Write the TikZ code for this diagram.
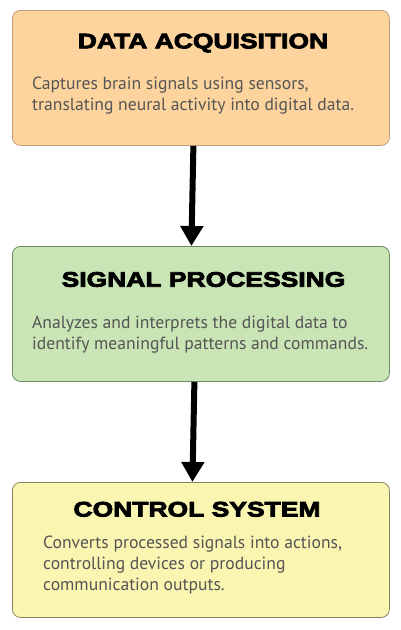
\documentclass[tikz,border=0pt]{standalone}
\usepackage{fontspec}
\setmainfont{PT Sans}
\newfontfamily\titlefont{Liberation Sans Bold}[FakeBold=4,FakeStretch=1.26]
\newfontfamily\bodyfont{PT Sans}
\usetikzlibrary{arrows.meta}
\definecolor{fillA}{HTML}{FDD49E}
\definecolor{drawA}{HTML}{C49A7A}
\definecolor{fillB}{HTML}{C9E5B5}
\definecolor{drawB}{HTML}{6F8A62}
\definecolor{fillC}{HTML}{FBF5B2}
\definecolor{drawC}{HTML}{8A8262}
\definecolor{bodygray}{HTML}{555555}
\newcommand{\bodylines}[1]{\begin{tabular}[t]{@{}l@{}}#1\end{tabular}}
\tikzset{
  boxstyle/.style={rounded corners=8pt, line width=0.8pt, minimum width=377pt, minimum height=135pt, inner sep=0pt, anchor=north west},
  titlestyle/.style={font=\titlefont\fontsize{21}{24}\selectfont, text=black, inner sep=0pt, anchor=base},
  bodystyle/.style={font=\bodyfont\fontsize{17.6}{21}\selectfont, text=bodygray, inner sep=0pt, anchor=base west},
  flowarrow/.style={line width=6pt, -{Triangle[width=22pt,length=20pt]}, black}
}
\begin{document}
\begin{tikzpicture}[x=1pt,y=-1pt]
\useasboundingbox (0,0) rectangle (400,630);
\node[boxstyle, fill=fillA, draw=drawA] (boxA) at (12,10) {};
\node[boxstyle, fill=fillB, draw=drawB] (boxB) at (12,246) {};
\node[boxstyle, fill=fillC, draw=drawC] (boxC) at (12,482) {};
\node[titlestyle] (titleA) at (203,48.3) {DATA ACQUISITION};
\node[titlestyle] (titleB) at (203.5,286.7) {SIGNAL PROCESSING};
\node[titlestyle] (titleC) at (197,516.5) {CONTROL SYSTEM};
\node[bodystyle] (bodyA) at (32,89.3) {\bodylines{Captures brain signals using sensors,\\translating neural activity into digital data.}};
\node[bodystyle] (bodyB) at (32,328.3) {\bodylines{Analyzes and interprets the digital data to\\identify meaningful patterns and commands.}};
\node[bodystyle] (bodyC) at (43,548.5) {\bodylines{Converts processed signals into actions,\\controlling devices or producing\\communication outputs.}};
\draw[flowarrow] ([xshift=-7.5pt]boxA.south) -- ([xshift=-9.5pt]boxB.north);
\draw[flowarrow] ([xshift=-6.5pt]boxB.south) -- ([xshift=-8.5pt]boxC.north);
\end{tikzpicture}
\end{document}
